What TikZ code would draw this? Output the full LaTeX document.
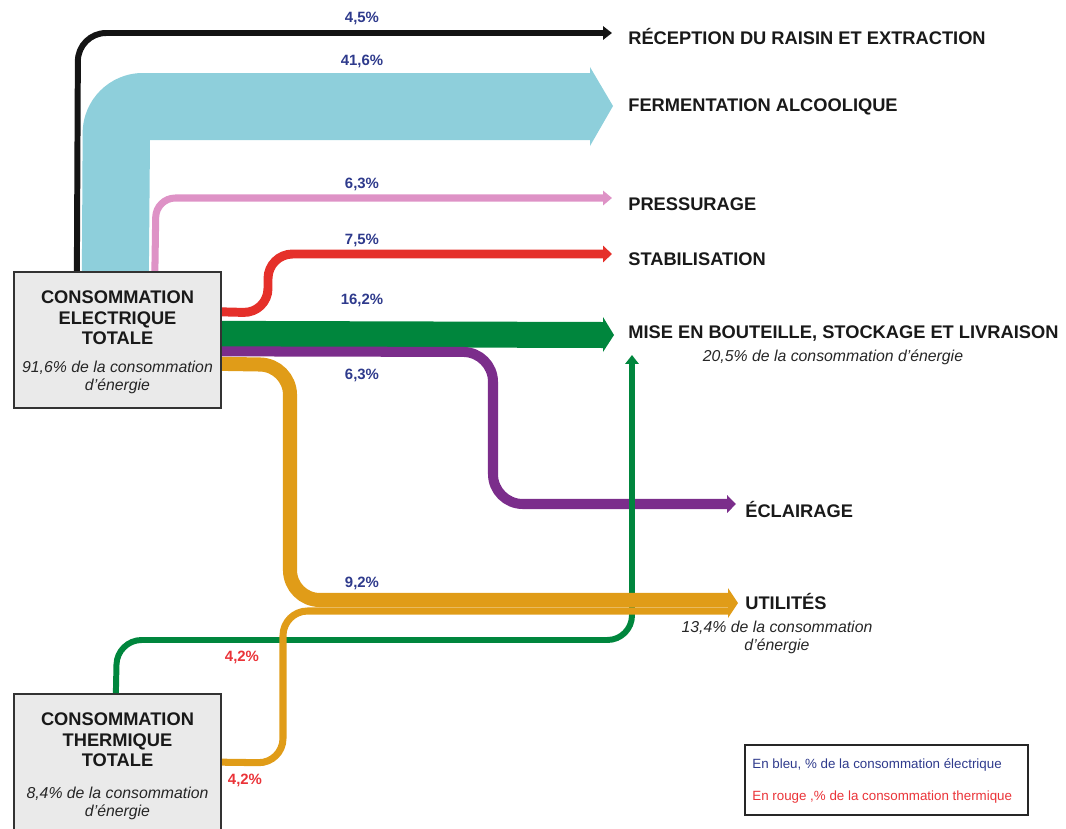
\documentclass[tikz,border=0pt]{standalone}
\usepackage{fontspec}
\setmainfont{Liberation Sans}
\usetikzlibrary{arrows.meta,calc}

\definecolor{fnoir}{HTML}{141414}
\definecolor{fcyan}{HTML}{8ECFDB}
\definecolor{frose}{HTML}{DE92C6}
\definecolor{frouge}{HTML}{E5302A}
\definecolor{fvert}{HTML}{00863D}
\definecolor{fviolet}{HTML}{7B2D8B}
\definecolor{forange}{HTML}{E09C18}
\definecolor{pctbleu}{HTML}{2E3A8C}
\definecolor{pctrouge}{HTML}{EA3338}
\definecolor{boxgris}{HTML}{EAEAEA}

\tikzset{
  flow/.style={line width=#1, rounded corners=14pt,
    -{Triangle[length=5pt,width=4pt 1]}},
  srcbox/.style={draw=black!80, line width=1.3pt, fill=boxgris,
    minimum width=117.8pt, minimum height=77.4pt, inner sep=0pt},
  boxhead/.style={font=\bfseries\fontsize{10.4}{11.7}\selectfont,
    align=center, text=black!90, inner sep=0pt},
  note/.style={font=\itshape\fontsize{9}{10.2}\selectfont,
    align=center, text=black!85, inner sep=0pt},
  target/.style={anchor=west, font=\bfseries\fontsize{10.4}{12}\selectfont,
    text=black!90, inner sep=0pt, text height=7.45pt, text depth=0pt},
  pct/.style={font=\bfseries\fontsize{8.5}{10}\selectfont, text=pctbleu},
  pctr/.style={font=\bfseries\fontsize{8.5}{10}\selectfont, text=pctrouge},
  legend/.style={anchor=west, font=\fontsize{7.6}{9}\selectfont, inner sep=0pt}
}

\begin{document}
\begin{tikzpicture}[x=0.02cm, y=-0.02cm]
    \useasboundingbox (0,0) rectangle (1066,829);
    \clip (0,0) rectangle (1066,829);

    % Source boxes (drawn empty first, texts later)
    \node[srcbox] (elec) at (117.5,340) {};
    \node[srcbox, minimum height=85pt] (therm) at (117.5,769) {};

    % Start and end points of the flows
    \coordinate (s-noir) at ($(elec.north west)+(64,0)$);
    \coordinate (s-cyanL) at ($(elec.north west)+(69,0)$);
    \coordinate (s-cyanR) at ($(elec.north west)+(136,0)$);
    \coordinate (s-rose) at ($(elec.north west)+(142,0)$);
    \coordinate (s-rouge) at ($(elec.north east)+(0,41)$);
    \coordinate (s-vertH) at ($(elec.north east)+(0,50)$);
    \coordinate (s-vertB) at ($(elec.north east)+(0,76)$);
    \coordinate (s-violet) at ($(elec.north east)+(0,80.5)$);
    \coordinate (s-orange) at ($(elec.north east)+(0,93)$);
    \coordinate (s-thvert) at ($(therm.north west)+(103,0)$);
    \coordinate (s-thorange) at ($(therm.north east)+(0,69)$);

    \coordinate (t-rec) at (612,33);
    \coordinate (t-rose) at (612,198);
    \coordinate (t-stab) at (612,254);
    \coordinate (t-mise) at (632,355);
    \coordinate (t-ecl) at (736,504);
    \coordinate (t-util) at (729,600);
    \coordinate (t-utilb) at (729,611);

    % Fermentation (wide band)
    \fill[fcyan] (s-cyanL) [rounded corners=34pt] -- (83,73) -- (300,73)
        [sharp corners] -- (590,73) -- (590,67) -- (613,106) -- (590,146)
        -- (590,140) -- (150,140) -- (s-cyanR) -- cycle;

    % Thin electric flows
    \draw[flow=3.4pt, fnoir, rounded corners=16pt] (s-noir) -- (78,33) -- (t-rec);
    \draw[flow=4pt, frose, rounded corners=11pt] (s-rose) -- (156,198) -- (t-rose);
    \draw[flow=5.1pt, frouge] (s-rouge) -- (268,313) -- (268,254) -- (t-stab);

    % Mise en bouteille (wide arrow)
    \fill[fvert] (s-vertH) -- (603,322) -- (603,317) -- (614,335) -- (603,352)
        -- (603,348) -- (s-vertB) -- cycle;

    \draw[flow=5.7pt, fviolet, rounded corners=17pt] (s-violet) -- (493,352)
        -- (493,504) -- (t-ecl);

    % Thermal flow towards bottling
    \draw[flow=3.4pt, fvert] (s-thvert) -- (117,640) -- (632,640) -- (t-mise);

    % Utilities (electric + thermal)
    \draw[line width=8pt, forange, rounded corners=17pt] (s-orange) -- (290,365)
        -- (290,600) -- (t-util);
    \draw[line width=4pt, forange, rounded corners=14pt] (s-thorange) -- (283,763)
        -- (283,611) -- (t-utilb);
    \fill[forange] (728,588) -- (738,603) -- (728,618) -- cycle;

    % Box texts
    \node[boxhead] (elecT) at (117.5,318) {CONSOMMATION\\ELECTRIQUE\\TOTALE};
    \node[note] (elecN) at (117.5,377) {91,6\% de la consommation\\d'énergie};
    \node[boxhead] (thermT) at (117.5,740) {CONSOMMATION\\THERMIQUE\\TOTALE};
    \node[note] (thermN) at (117.5,803) {8,4\% de la consommation\\d'énergie};

    % Targets
    \node[target] (rec) at (628,38) {RÉCEPTION DU RAISIN ET EXTRACTION};
    \node[target] (ferm) at (628,105) {FERMENTATION ALCOOLIQUE};
    \node[target] (press) at (628,204) {PRESSURAGE};
    \node[target] (stab) at (628,259) {STABILISATION};
    \node[target] (mise) at (628,332) {MISE EN BOUTEILLE, STOCKAGE ET LIVRAISON};
    \node[note] (miseN) at (833,357) {20,5\% de la consommation d'énergie};
    \node[target] (ecl) at (745,511) {ÉCLAIRAGE};
    \node[target] (util) at (745,603) {UTILITÉS};
    \node[note] (utilN) at (777,637) {13,4\% de la consommation\\d'énergie};

    % Percentages
    \node[pct] (p-rec) at (362,18) {4,5\%};
    \node[pct] (p-ferm) at (362,61) {41,6\%};
    \node[pct] (p-press) at (362,184) {6,3\%};
    \node[pct] (p-stab) at (362,240) {7,5\%};
    \node[pct] (p-mise) at (362,300) {16,2\%};
    \node[pct] (p-ecl) at (362,375) {6,3\%};
    \node[pct] (p-util) at (362,583) {9,2\%};
    \node[pctr] (p-thv) at (242,657) {4,2\%};
    \node[pctr] (p-tho) at (245,780) {4,2\%};

    % Legend
    \node[draw=black!85, line width=1.1pt, minimum width=161pt,
        minimum height=39.8pt] (leg) at (886.5,780) {};
    \node[legend, text=pctbleu] (leg-b) at (752,765)
        {En bleu, \% de la consommation électrique};
    \node[legend, text=pctrouge] (leg-r) at (752,797)
        {En rouge ,\% de la consommation thermique};
\end{tikzpicture}
\end{document}
